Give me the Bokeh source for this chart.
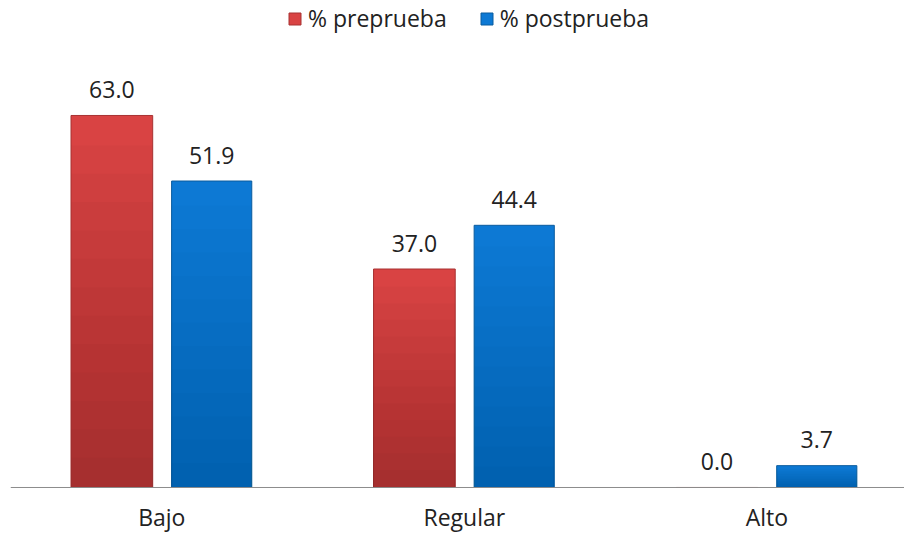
import numpy as np
from bokeh.plotting import figure
from bokeh.models import ColumnDataSource, Legend, LegendItem, Range1d, Span
from bokeh.core.properties import value
from bokeh.embed import file_html
from bokeh.resources import INLINE

categories = ["Bajo", "Regular", "Alto"]
pre = [63.0, 37.0, 0.0]
post = [51.9, 44.4, 3.7]
series_names = ["% preprueba", "% postprueba"]

FONT = "Open Sans"
TXT = "#222222"
xs = np.arange(len(categories), dtype=float)
off = 0.165

p = figure(width=904, height=533, output_backend="svg", toolbar_location=None,
           x_range=Range1d(-0.5, 2.455), y_range=Range1d(-7.79, 82.47),
           min_border_left=10, min_border_right=0, min_border_top=0, min_border_bottom=0)
p.outline_line_color = None
p.xgrid.visible = False
p.ygrid.visible = False
p.xaxis.visible = False
p.yaxis.visible = False
p.background_fill_color = "white"

pre_src = ColumnDataSource(dict(x=xs - off, top=pre, label=[f"{v:.1f}" for v in pre]))
post_src = ColumnDataSource(dict(x=xs + off, top=post, label=[f"{v:.1f}" for v in post]))
cat_src = ColumnDataSource(dict(x=xs, y=np.zeros(len(xs)), name=categories))

r_pre = p.vbar(x="x", top="top", width=0.27, source=pre_src,
               fill_color="#D94343", line_color="#A83232", line_width=1)
r_post = p.vbar(x="x", top="top", width=0.265, source=post_src,
                fill_color="#0D79D4", line_color="#0A5C9E", line_width=1)

# vertical shading (darker toward bottom)
fracs = np.linspace(0.92, 0.08, 12)
for f in fracs:
    p.vbar(x=xs - off, top=np.array(pre) * f, width=0.27, fill_color="black",
           fill_alpha=0.018, line_color=None)
    p.vbar(x=xs + off, top=np.array(post) * f, width=0.265, fill_color="black",
           fill_alpha=0.011, line_color=None)

# baseline (category axis line)
p.add_layout(Span(location=0, dimension="width", line_color="#8C8C8C", line_width=1))

for src in (pre_src, post_src):
    p.text(x="x", y="top", text="label", source=src, text_align="center",
           text_baseline="alphabetic", y_offset=-26, text_font=value(FONT),
           text_font_size="23px", text_color=TXT)

p.text(x="x", y="y", text="name", source=cat_src, text_align="center",
       text_baseline="alphabetic", y_offset=30, text_font=value(FONT),
       text_font_size="23px", text_color=TXT)

legend = Legend(items=[LegendItem(label=series_names[0], renderers=[r_pre]),
                       LegendItem(label=series_names[1], renderers=[r_post])],
                location=(277, 499), orientation="horizontal",
                padding=0, margin=0, spacing=32, label_standoff=6,
                glyph_width=15, glyph_height=15,
                label_text_font=FONT, label_text_font_size="23px",
                label_text_color=TXT, border_line_color=None,
                background_fill_alpha=0)
p.add_layout(legend, "center")

open("out.html", "w").write(file_html(p, INLINE))
